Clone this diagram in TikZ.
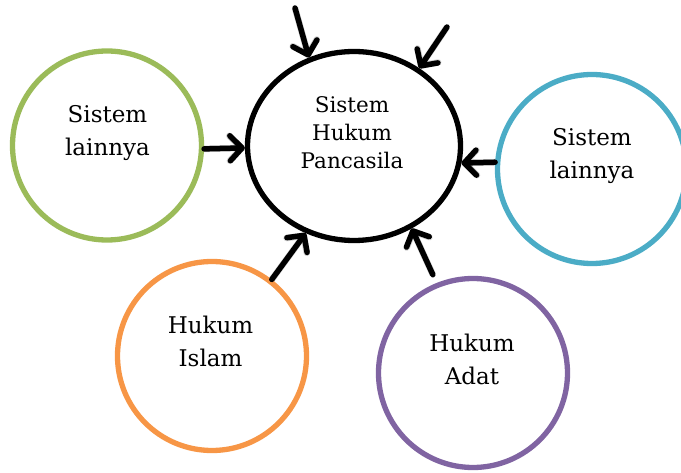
\documentclass[tikz,border=0pt]{standalone}
\usepackage{fontspec}
\setmainfont{DejaVu Serif}
\usetikzlibrary{arrows.meta,shapes.geometric}
\definecolor{rgreen}{HTML}{9BBB59}
\definecolor{rblue}{HTML}{4BACC6}
\definecolor{rorange}{HTML}{F79646}
\definecolor{rpurple}{HTML}{8064A2}
\tikzset{
  ring/.style={circle, draw=#1, line width=5.3pt, minimum size=189pt, inner sep=0pt},
  hub/.style={ellipse, draw=black, line width=5.3pt, minimum width=213pt, minimum height=189pt, inner sep=0pt},
  sidetxt/.style={align=center, font=\fontsize{23pt}{33pt}\selectfont, inner sep=0pt},
  hubtxt/.style={align=center, font=\fontsize{21.5pt}{28pt}\selectfont, inner sep=0pt},
  arr/.style={line width=5.5pt, line cap=round,
    -{Straight Barb[length=12pt,width=25pt,line join=round,line cap=round]},
    preaction={draw=black, opacity=0.18, line width=6.5pt, shift={(2,3)}}}
}
\begin{document}
\begin{tikzpicture}[x=1pt,y=-1pt]
\useasboundingbox (0,0) rectangle (681,473);
\node[hub] (c) at (354,146) {};
\node[ring=rgreen] (g) at (107,145.5) {};
\node[ring=rblue] (b) at (592,169) {};
\node[ring=rorange] (o) at (212,356) {};
\node[ring=rpurple] (p) at (473,373) {};
\node[hubtxt] (ct) at (352,132.5) {Sistem\\Hukum\\Pancasila};
\node[sidetxt] (gt) at (107.5,133) {Sistem\\lainnya};
\node[sidetxt] (bt) at (592,156.5) {Sistem\\lainnya};
\node[sidetxt] (ot) at (210.5,341) {Hukum\\Islam};
\node[sidetxt] (pt) at (472,359.5) {Hukum\\Adat};
\coordinate (t1) at (295,8);
\coordinate (t2) at (447,27);
\draw[arr] (t1) -- (c.117.6);
\draw[arr] (t2) -- (c.50);
\draw[arr] (g.-2) -- (c.181);
\draw[arr] (b.176) -- (c.-9);
\draw[arr] (o.52) -- (c.241);
\draw[arr, shorten <=9pt] (p.112) -- (c.-55);
\end{tikzpicture}
\end{document}
